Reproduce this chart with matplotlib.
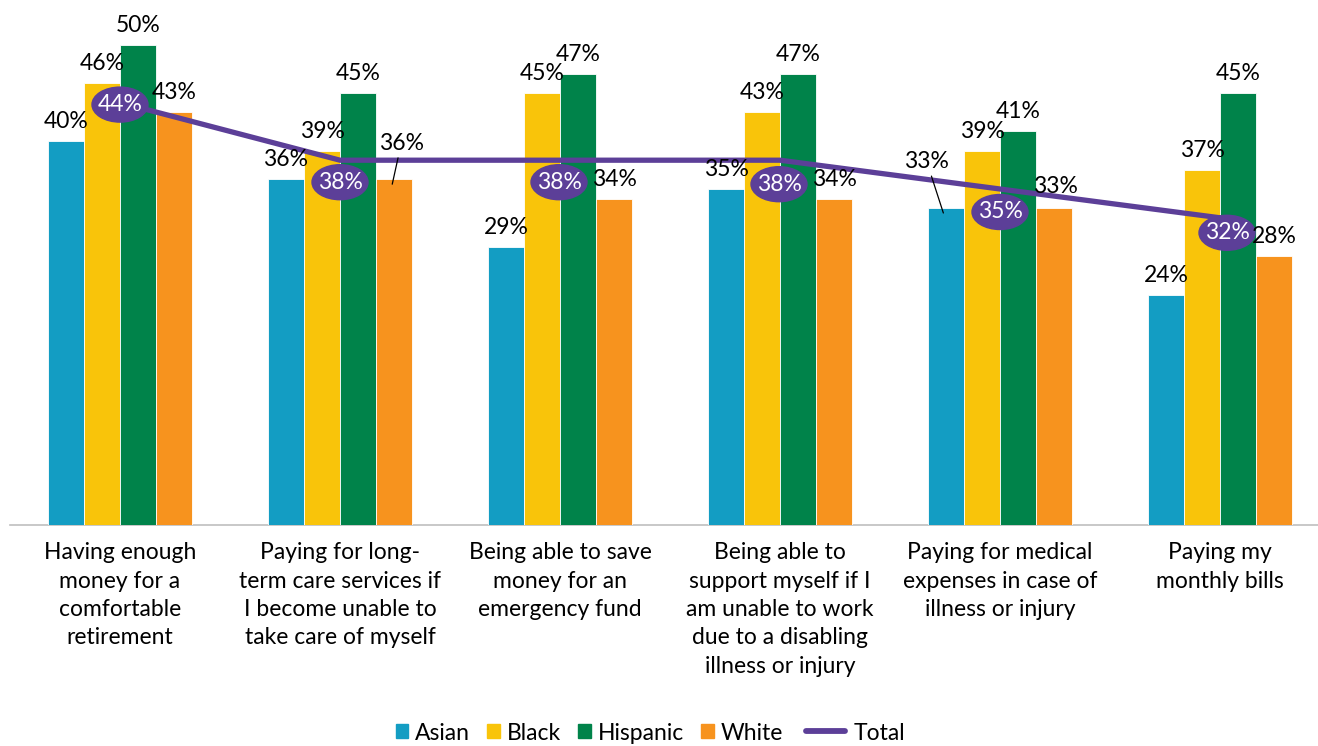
import numpy as np
import matplotlib.pyplot as plt
from matplotlib.patches import Ellipse
from matplotlib.lines import Line2D
from matplotlib.patches import Patch

plt.rcParams['font.family'] = ['Lato', 'DejaVu Sans']

# Data
categories = [
    "Having enough\nmoney for a\ncomfortable\nretirement",
    "Paying for long-\nterm care services if\nI become unable to\ntake care of myself",
    "Being able to save\nmoney for an\nemergency fund",
    "Being able to\nsupport myself if I\nam unable to work\ndue to a disabling\nillness or injury",
    "Paying for medical\nexpenses in case of\nillness or injury",
    "Paying my\nmonthly bills",
]
series_names = ["Asian", "Black", "Hispanic", "White"]
asian = [40, 36, 29, 35, 33, 24]
black = [46, 39, 45, 43, 39, 37]
hispanic = [50, 45, 47, 47, 41, 45]
white = [43, 36, 34, 34, 33, 28]
total = [44, 38, 38, 38, 35, 32]

colors = ["#139dc3", "#f9c40a", "#00834a", "#f7931e"]
total_color = "#5c3f98"

fig = plt.figure(figsize=(13.18, 7.46), dpi=100)
ax = fig.add_axes([10 / 1318, (746 - 525) / 746, 1 - 10 / 1318, 525 / 746])

x = np.arange(len(categories))
w = 36 / 220
FS = 16.5

# label tweaks (offset in points from bar top/centre)
special = {
    (3, 1): dict(dx=6.5, dy=24.8, leader=True),   # White, 2nd group
    (0, 4): dict(dx=-12, dy=32.4, leader=True),   # Asian, 5th group
    (3, 4): dict(dx=2, dy=14.4, leader=False),    # White, 5th group
}

for s, (name, vals) in enumerate(zip(series_names, [asian, black, hispanic, white])):
    xs = x + (s - 1.5) * w
    ax.bar(xs, vals, width=w, color=colors[s], edgecolor="white", linewidth=0.6,
           zorder=2, label=name)
    for i, (xi, v) in enumerate(zip(xs, vals)):
        sp = special.get((s, i))
        if sp is None:
            ax.annotate(f"{v}%", (xi, v), xytext=(0, 9.4), textcoords="offset points",
                        ha="center", va="baseline", fontsize=FS, zorder=6)
        else:
            ax.annotate(f"{v}%", (xi - 0.008 if s == 3 else xi - 0.012, v - 0.5),
                        xytext=(sp['dx'], sp['dy']), textcoords="offset points",
                        ha="center", va="baseline", fontsize=FS, zorder=6,
                        arrowprops=dict(arrowstyle="-", color="black", lw=0.9,
                                        shrinkA=1, shrinkB=0) if sp['leader'] else None)

# total line
ax.plot(x, total, color=total_color, lw=3.8, zorder=3, solid_capstyle="round")
ell_dy_px = [2, 22, 22, 24, 23, 15]
ell_dx_px = [0, 0, -1, -1, 0, 7]
for i, v in enumerate(total):
    cx = x[i] + ell_dx_px[i] / 220
    cy = v - ell_dy_px[i] / 9.6
    ax.add_patch(Ellipse((cx, cy), 56 / 220, 35 / 9.6, color=total_color, zorder=4))
    ax.text(cx, cy, f"{v}%", color="white", ha="center", va="center",
            fontsize=FS, zorder=5)

ax.set_xlim(-0.5, (1318 - 120) / 220)
ax.set_ylim(0, 525 / 9.6)
ax.set_xticks(x)
ax.set_xticklabels(categories, fontsize=FS, linespacing=1.43)
ax.tick_params(axis="x", length=0, pad=12.5)
ax.set_yticks([])
for sp_ in ["top", "right", "left"]:
    ax.spines[sp_].set_visible(False)
ax.spines["bottom"].set_color("#bfbfbf")
ax.spines["bottom"].set_linewidth(1.2)
ax.spines["bottom"].set_zorder(1)

# legend: squares for the groups, a longer line for Total
bar_handles = [Patch(color=c, label=n) for c, n in zip(colors, series_names)]
leg1 = fig.legend(handles=bar_handles, loc="center right",
                  bbox_to_anchor=(783 / 1318, 13 / 746), ncol=4, frameon=False,
                  fontsize=FS, handlelength=0.55, handleheight=0.55,
                  handletextpad=0.3, columnspacing=0.75, borderaxespad=0, borderpad=0)
tot_handle = Line2D([0], [0], color=total_color, lw=4.2, label="Total",
                    solid_capstyle="round")
leg2 = fig.legend(handles=[tot_handle], loc="center left",
                  bbox_to_anchor=(806 / 1318, 13 / 746), frameon=False, fontsize=FS,
                  handlelength=1.7, handletextpad=0.4, borderaxespad=0, borderpad=0)

fig.savefig("out.png", dpi=100)
